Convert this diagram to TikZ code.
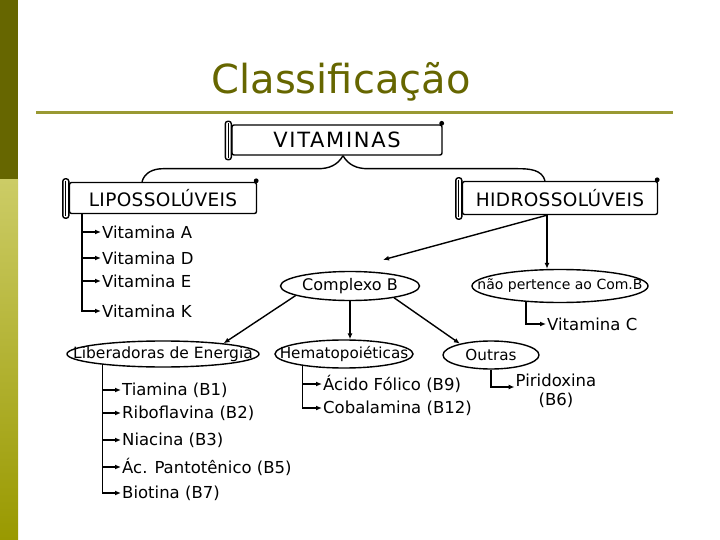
\documentclass[tikz,border=0pt]{standalone}
\usepackage{fontspec}
\setmainfont{DejaVu Sans}
\newfontfamily\scrollfont[LetterSpace=2]{DejaVu Sans}
\usetikzlibrary{arrows.meta,positioning,calc,shapes.geometric}
\definecolor{barDark}{RGB}{102,102,0}
\definecolor{barLight}{RGB}{204,204,102}
\definecolor{barMid}{RGB}{153,153,0}
\definecolor{ruleOlive}{RGB}{153,153,51}

\begin{document}
\begin{tikzpicture}[
  x=1pt,y=-1pt,
  >={Latex[length=6pt,width=5pt]},
  font=\fontsize{16.5}{19}\selectfont,
  scroll/.style={draw, line width=1.4pt, rounded corners=2pt, fill=white, inner sep=0pt,
    font=\scrollfont\fontsize{18.5}{22}\selectfont},
  roll/.style={draw, line width=1.4pt, rounded corners=2.5pt, fill=white},
  oval/.style={ellipse, draw, line width=1.4pt, inner sep=0pt, fill=white},
  item/.style={anchor=west, inner sep=1pt},
  link/.style={line width=1.4pt},
  arr/.style={->, line width=1.4pt}
]
\useasboundingbox (0,0) rectangle (720,540);

% side bar, title and rule
\fill[barDark] (0,0) rectangle (18,180);
\shade[top color=barLight, bottom color=barMid] (0,180) rectangle (18,540);
\node[text=barDark, font=\fontsize{40}{46}\selectfont] (title) at (341,82) {Classificação};
\draw[ruleOlive, line width=3pt] (36,113) -- (673,113);

% scrolls
\node[scroll, minimum width=210pt, minimum height=30pt] (vit) at (337,140)
  {\addfontfeature{LetterSpace=8}\fontsize{21}{25}\selectfont VITAMINAS};
\node[scroll, minimum width=187pt, minimum height=31pt] (lipo) at (163,198) {LIPOSSOLÚVEIS};
\node[scroll, minimum width=195pt, minimum height=33pt] (hidro) at (560,198) {HIDROSSOLÚVEIS};
\foreach \n in {vit,lipo,hidro} {
  \draw[roll] ([xshift=-6pt,yshift=3pt]\n.north west) rectangle ([yshift=-4pt]\n.south west);
  \draw[line width=0.8pt] ([xshift=-3pt,yshift=1pt]\n.north west) -- ([xshift=-3pt,yshift=-2pt]\n.south west);
  \fill ([xshift=-1pt,yshift=1pt]\n.north east) circle (2.4pt);
}

\draw[link] ([xshift=6pt]vit.south) to[out=-120,in=0] ++(-25,13) -- ++(-155,0)
  to[out=180,in=75] ([xshift=-21pt]lipo.north);
\draw[link] ([xshift=6pt]vit.south) to[out=-60,in=180] ++(25,13) -- ++(150,0)
  to[out=0,in=105] ([xshift=-15pt]hidro.north);

% lipossoluveis
\node[item] (vA) at (101,232) {Vitamina A};
\node[item] (vD) at (101,258) {Vitamina D};
\node[item] (vE) at (101,281) {Vitamina E};
\node[item] (vK) at (101,311) {Vitamina K};
\coordinate (ls) at ([xshift=13pt]lipo.south west);
\foreach \v in {vA,vD,vE,vK}
  \draw[arr] (ls) |- (\v.west);

% hidrossoluveis
\node[oval, minimum width=139pt, minimum height=29pt, font=\fontsize{16}{19}\selectfont] (cb) at (350,286)
  {\makebox[0pt]{Complexo B}};
\node[oval, minimum width=176pt, minimum height=33pt, font=\fontsize{14}{17}\selectfont] (np) at (560,286)
  {\makebox[0pt]{não pertence ao Com.B}};
\node[item] (vC) at (546,324) {Vitamina C};

\coordinate (hs) at ([xshift=-13pt]hidro.south);
\draw[arr] (hs) -- ([xshift=33pt,yshift=11pt]cb.north);
\draw[arr] (hs) -- (hs |- np.north);
\draw[arr] (np.205) |- (vC.west);

% complexo B
\node[oval, minimum width=192pt, minimum height=26pt, font=\fontsize{15.5}{18}\selectfont] (lib) at (163,354)
  {\makebox[0pt]{Liberadoras de Energia}};
\node[oval, minimum width=138pt, minimum height=28pt, font=\fontsize{15.2}{18}\selectfont] (hem) at (344,354)
  {\makebox[0pt]{Hematopoiéticas}};
\node[oval, minimum width=96pt, minimum height=28pt, font=\fontsize{15.2}{18}\selectfont] (out) at (491,355)
  {\makebox[0pt]{Outras}};

\draw[arr] (cb.190) -- (lib.10);
\draw[arr] (cb.south) -- (cb.south |- hem.north);
\draw[arr] (cb.-15) -- (out.160);

% liberadoras de energia
\node[item] (b1) at (121,390) {Tiamina (B1)};
\node[item] (b2) at (121,413) {Riboflavina (B2)};
\node[item] (b3) at (121,440) {Niacina (B3)};
\node[item] (b5) at (121,467) {Ác. Pantotênico (B5)};
\node[item] (b7) at (121,493) {Biotina (B7)};
\foreach \v in {b1,b2,b3,b5,b7}
  \draw[arr] (lib.190) |- (\v.west);

% hematopoieticas
\node[item] (b9) at (322,384) {Ácido Fólico (B9)};
\node[item] (b12) at (322,408) {Cobalamina (B12)};
\foreach \v in {b9,b12}
  \draw[arr] (hem.196) |- (\v.west);

% outras
\node[align=center, inner sep=1pt] (b6) at (556,391) {Piridoxina\\(B6)};
\draw[arr] (out.south) |- ([yshift=4pt]b6.west);

\end{tikzpicture}
\end{document}
